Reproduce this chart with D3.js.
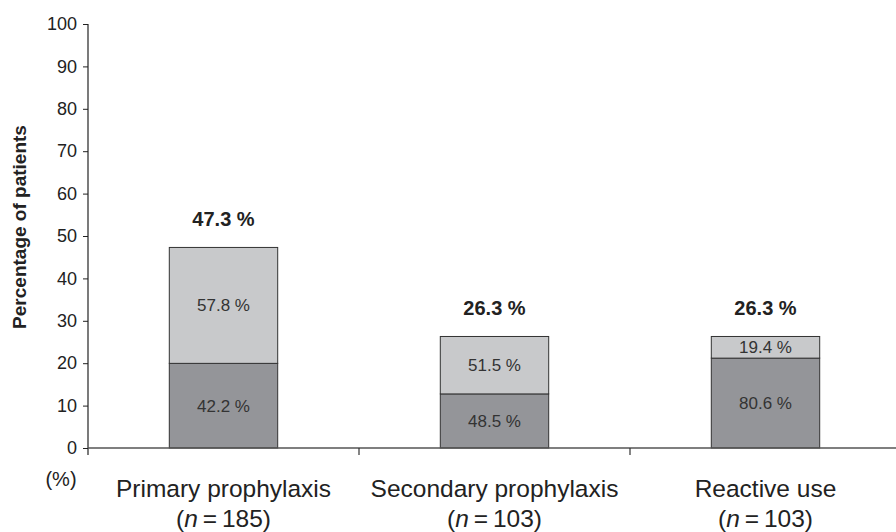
<!DOCTYPE html>
<html>
<head>
<meta charset="utf-8">
<script src="https://cdn.jsdelivr.net/npm/d3@7"></script>
<style>
  html, body { margin: 0; padding: 0; background: #fff; }
  svg { display: block; font-family: Arial, "Liberation Sans", sans-serif; }
</style>
</head>
<body>
<svg id="chart" width="896" height="532"></svg>
<script>
// Treatment setting and group size
const categories = ["Primary prophylaxis", "Secondary prophylaxis", "Reactive use"];
const sampleSizes = [185, 103, 103];
// Share of all patients in each setting (bar height, %)
const totals = [47.3, 26.3, 26.3];
// Split of each bar (% of that bar)
const lowerShare = [42.2, 48.5, 80.6];
const upperShare = [57.8, 51.5, 19.4];
const yTickValues = [0, 10, 20, 30, 40, 50, 60, 70, 80, 90, 100];

const svg = d3.select("#chart");

const x = d3.scaleBand().domain(categories).range([88, 901]).padding(0);
const y = d3.scaleLinear().domain([0, 100]).range([448, 24]);
const barW = x.bandwidth() * 0.4;

// Stack the two parts of each bar
const rows = categories.map((c, i) => {
  const low = totals[i] * lowerShare[i] / 100;
  return {
    cat: c,
    segs: [
      { y0: 0, y1: low, label: lowerShare[i].toFixed(1) + " %", fill: "#949599" },
      { y0: low, y1: totals[i], label: upperShare[i].toFixed(1) + " %", fill: "#c8c9cb" }
    ],
    total: totals[i],
    n: sampleSizes[i]
  };
});

const barG = svg.append("g");
rows.forEach(r => {
  const cx = x(r.cat) + x.bandwidth() / 2;
  r.segs.forEach(s => {
    barG.append("rect")
      .attr("x", cx - barW / 2)
      .attr("y", y(s.y1))
      .attr("width", barW)
      .attr("height", y(s.y0) - y(s.y1))
      .attr("fill", s.fill)
      .attr("stroke", "#333")
      .attr("stroke-width", 1);
    barG.append("text")
      .attr("x", cx)
      .attr("y", (y(s.y0) + y(s.y1)) / 2)
      .attr("dy", "0.35em")
      .attr("text-anchor", "middle")
      .attr("font-size", 17)
      .attr("fill", "#333")
      .text(s.label);
  });
  barG.append("text")
    .attr("x", cx)
    .attr("y", y(r.total) - 21)
    .attr("text-anchor", "middle")
    .attr("font-size", 20)
    .attr("font-weight", "bold")
    .attr("fill", "#222")
    .text(r.total.toFixed(1) + " %");
});

// Y axis
const yAxis = svg.append("g")
  .attr("transform", "translate(88,0)")
  .call(d3.axisLeft(y).tickValues(yTickValues).tickSize(5).tickPadding(6));
yAxis.select(".domain").remove();
yAxis.selectAll(".tick line").attr("stroke", "#222");
yAxis.selectAll(".tick text")
  .attr("font-size", 18)
  .attr("fill", "#222")
  .attr("font-family", "Arial, 'Liberation Sans', sans-serif");
svg.append("line")
  .attr("x1", 88).attr("x2", 88)
  .attr("y1", y(100)).attr("y2", 455)
  .attr("stroke", "#222").attr("stroke-width", 1.2);

// X axis line with category separators
svg.append("line")
  .attr("x1", 88).attr("x2", 896)
  .attr("y1", y(0)).attr("y2", y(0))
  .attr("stroke", "#555").attr("stroke-width", 1.6);
categories.slice(1).forEach(c => {
  svg.append("line")
    .attr("x1", x(c)).attr("x2", x(c))
    .attr("y1", y(0)).attr("y2", y(0) + 7)
    .attr("stroke", "#333").attr("stroke-width", 1.2);
});

// Category labels
rows.forEach(r => {
  const cx = x(r.cat) + x.bandwidth() / 2;
  svg.append("text")
    .attr("x", cx).attr("y", 497)
    .attr("text-anchor", "middle")
    .attr("font-size", 24.5)
    .attr("fill", "#222")
    .text(r.cat);
  const t = svg.append("text")
    .attr("x", cx).attr("y", 527)
    .attr("text-anchor", "middle")
    .attr("font-size", 24.5)
    .attr("fill", "#222");
  t.append("tspan").text("(");
  t.append("tspan").attr("font-style", "italic").text("n");
  t.append("tspan").text("\u2009=\u2009" + r.n + ")");
});

// Unit marker and axis title
svg.append("text")
  .attr("x", 61).attr("y", 486)
  .attr("text-anchor", "middle")
  .attr("font-size", 20)
  .attr("fill", "#222")
  .text("(%)");
svg.append("text")
  .attr("transform", "translate(26,227) rotate(-90)")
  .attr("text-anchor", "middle")
  .attr("font-size", 19)
  .attr("font-weight", "bold")
  .attr("fill", "#222")
  .text("Percentage of patients");
</script>
</body>
</html>
